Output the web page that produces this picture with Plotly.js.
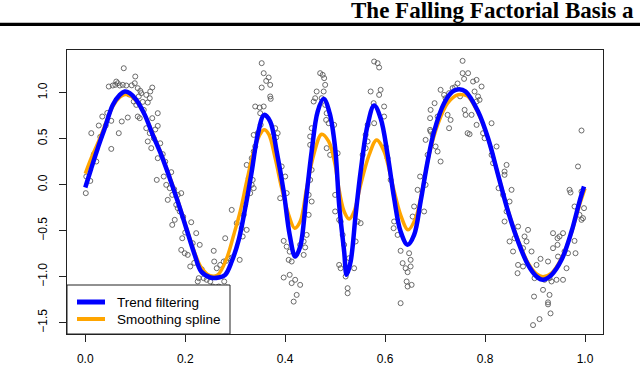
<!DOCTYPE html>
<html>
<head>
<meta charset="utf-8">
<script src="https://cdn.plot.ly/plotly-3.0.1.min.js"></script>
<style>html,body{margin:0;padding:0;background:#fff;}#chart{width:640px;height:366px;}</style>
</head>
<body>
<div id="chart"></div>
<script>
const ptX = [
0.001,0.002,0.010,0.012,0.022,0.027,0.034,0.041,0.052,0.052,0.067,0.073,0.085,0.047,0.055,0.062,0.065,0.060,0.069,0.075,
0.082,0.077,0.100,0.099,0.105,0.110,0.112,0.107,0.134,0.130,0.122,0.129,0.125,0.097,0.102,0.145,0.117,0.105,0.109,0.134,
0.145,0.122,0.129,0.125,0.132,0.137,0.155,0.145,0.143,0.157,0.172,0.162,0.169,0.165,0.174,0.185,0.192,0.182,0.185,0.189,
0.179,0.174,0.212,0.194,0.222,0.215,0.229,0.192,0.199,0.205,0.210,0.227,0.225,
0.017,0.030,0.044,0.088,0.093,0.115,0.140,0.150,0.160,0.178,0.196,0.200,0.218,0.233,
0.237,0.243,0.250,0.255,0.262,0.267,0.278,0.283,0.282,0.270,0.267,0.257,0.258,0.263,0.270,0.277,0.282,0.287,0.293,0.309,
0.280,0.293,0.303,0.313,0.323,0.315,0.317,0.320,0.323,0.330,0.337,0.333,0.327,0.335,0.323,0.333,0.337,0.340,0.337,0.345,
0.351,0.350,0.340,0.349,0.357,0.353,0.357,0.367,0.362,0.370,0.353,0.370,0.371,0.380,0.385,0.382,0.373,0.393,0.400,0.403,
0.390,0.397,0.403,0.409,0.407,0.413,0.397,0.409,0.420,0.413,0.430,0.423,0.417,0.430,0.437,0.440,0.443,0.437,0.447,0.453,
0.447,0.450,0.453,0.450,0.453,0.450,0.457,0.460,0.463,0.470,0.475,0.478,0.480,0.477,0.473,0.480,0.483,0.482,0.487,0.483,
0.490,0.500,0.500,
0.508,0.511,0.515,0.518,0.508,0.511,0.521,0.528,0.538,0.541,0.551,0.545,0.525,0.525,0.505,0.498,0.555,0.561,0.565,0.561,
0.565,0.571,0.577,0.588,0.591,0.598,0.598,0.578,0.578,0.585,0.588,0.601,0.605,0.611,0.618,0.617,0.625,0.631,0.648,0.651,
0.635,0.641,0.645,0.651,0.643,0.645,0.653,0.631,0.658,0.655,0.665,0.670,0.678,0.681,0.681,0.685,0.690,0.691,0.695,0.705,
0.711,0.701,0.691,0.690,0.699,0.705,0.711,0.718,0.721,0.728,0.725,0.731,0.728,0.755,0.755,0.758,0.759,0.761,0.765,
0.740,0.745,0.750,0.735,
0.766,0.776,0.783,0.793,0.779,0.786,0.789,0.783,0.773,0.783,0.769,0.813,0.796,0.799,0.823,0.813,0.816,0.843,0.839,0.839,
0.827,0.836,0.853,0.849,0.843,0.839,0.866,0.886,0.849,0.859,0.879,0.883,0.876,0.856,0.893,0.866,0.865,0.876,0.903,0.911,
0.926,0.899,0.919,0.929,0.933,0.943,0.956,0.898,0.916,0.929,0.926,0.926,0.931,0.909,0.896,0.936,0.945,0.949,0.956,0.936,
0.945,0.946,0.959,0.966,0.981,0.963,0.979,0.969,0.971,0.979,0.989,0.993,0.996,0.998,0.993,0.986,0.993
];
const ptY = [
-0.092,0.089,0.041,0.560,0.252,0.643,0.741,0.643,0.694,0.389,0.560,0.687,0.730,1.067,1.078,1.121,1.103,1.085,1.078,1.085,
1.078,1.266,1.176,1.103,1.049,1.020,0.995,0.959,1.056,1.013,0.976,0.940,0.893,0.904,0.867,0.777,0.813,0.741,0.723,0.723,
0.639,0.614,0.560,0.470,0.397,0.505,0.332,0.288,0.052,0.089,0.136,-0.002,-0.038,-0.165,-0.111,-0.111,-0.092,-0.219,-0.255,-0.291,
-0.382,-0.437,-0.408,-0.582,-0.527,-0.636,-0.654,-0.709,-0.745,-0.763,-0.889,-1.016,-1.052,
0.330,0.520,0.780,0.980,1.080,0.900,0.600,0.450,0.250,-0.050,-0.350,-0.520,-0.850,-0.920,
-1.016,-1.034,-1.052,-1.107,-1.118,-1.107,-1.052,-1.118,-1.198,-1.234,-1.252,-0.719,-0.835,-0.908,-0.872,-0.835,-0.828,-0.799,-0.792,-0.817,
-0.582,-0.274,-0.418,-0.473,-0.491,-0.563,-0.328,-0.219,-0.111,-0.092,-0.038,-0.002,0.071,0.052,0.215,0.288,0.361,0.415,0.541,0.560,
0.650,0.777,0.850,0.839,0.850,1.321,1.212,1.165,1.128,1.085,1.056,0.959,0.933,0.614,0.560,0.513,0.524,0.198,0.089,-0.092,
-0.147,-0.611,-0.673,-0.728,-0.817,-0.835,-1.009,-0.980,-1.034,-1.070,-1.089,-1.198,-1.271,-0.654,-0.617,-0.682,-0.546,-0.763,-0.328,-0.183,
-0.111,0.052,0.161,0.433,0.614,0.524,0.904,0.940,1.013,1.212,1.194,1.158,1.085,1.013,0.940,0.867,0.777,0.704,0.668,0.397,
0.324,-0.111,-0.291,
-0.382,-0.400,-0.546,-0.654,-0.872,-0.908,-0.998,-0.799,-0.908,-0.617,-0.418,-0.400,-1.125,-1.180,0.342,0.650,0.324,0.397,0.470,0.541,
0.650,1.013,0.886,0.976,1.031,0.850,0.741,0.668,1.339,1.321,1.274,0.415,0.288,0.052,-0.400,-0.473,-0.546,-0.719,-0.745,-0.817,
-0.853,-0.908,-0.951,-0.889,-1.052,-1.107,-1.089,-1.288,-0.237,-0.346,-0.056,0.089,-0.291,-0.002,0.487,0.324,0.596,0.578,0.541,0.361,
0.252,0.415,0.813,0.723,0.886,0.741,1.031,0.976,0.940,0.995,0.759,0.704,0.614,1.346,1.212,1.150,0.813,0.759,0.560,
1.060,1.100,0.960,1.050,
1.212,1.121,1.139,1.067,1.013,0.959,0.922,0.904,0.759,0.650,0.549,0.668,0.560,0.505,0.415,0.324,0.234,0.215,0.143,0.107,
-0.038,-0.111,-0.056,-0.183,-0.291,-0.400,-0.455,-0.491,-0.617,-0.582,-0.563,-0.617,-0.690,-0.726,-0.726,-0.872,-0.962,-0.889,-0.872,-0.806,
-0.835,-1.016,-1.034,-1.016,-1.052,-1.034,-1.034,-1.216,-1.143,-1.198,-1.279,-1.301,-1.399,-1.461,-1.526,-0.527,-0.582,-0.563,-0.527,-0.690,
-0.654,-0.781,-0.726,-0.745,-0.745,-0.908,-0.611,-0.056,-0.085,-0.237,-0.328,-0.382,-0.364,-0.255,-0.074,0.198,0.589
];

// Trend filtering fit
const tfX = [0.000,0.012,0.025,0.039,0.055,0.069,0.079,0.089,0.102,0.119,0.135,0.152,0.169,0.185,0.202,0.219,0.232,
0.250,0.267,0.280,0.293,0.307,0.320,0.333,0.345,0.358,0.370,0.383,0.397,0.409,0.420,0.430,0.442,0.453,0.465,0.477,0.489,0.500,
0.508,0.518,0.523,0.531,0.541,0.551,0.565,0.578,0.591,0.605,0.618,0.631,0.645,0.658,0.671,0.685,0.698,0.718,0.735,0.748,0.761,
0.786,0.806,0.826,0.846,0.866,0.886,0.903,0.916,0.933,0.953,0.973,0.989,0.998];
const tfY = [-0.031,0.179,0.397,0.614,0.867,0.976,1.013,0.995,0.922,0.759,0.541,0.324,0.071,-0.183,-0.473,-0.763,-0.944,
-1.009,-1.009,-0.980,-0.835,-0.600,-0.255,0.143,0.541,0.759,0.687,0.361,-0.074,-0.546,-0.781,-0.673,-0.147,0.361,0.795,0.933,0.777,0.397,
-0.219,-0.726,-0.980,-0.835,-0.328,0.143,0.650,0.860,0.723,0.324,-0.147,-0.509,-0.654,-0.546,-0.183,0.252,0.578,0.886,1.013,1.038,1.013,
0.795,0.505,0.107,-0.291,-0.617,-0.872,-0.998,-1.034,-0.980,-0.817,-0.509,-0.183,-0.020];

// Smoothing spline fit
const ssX = [0.000,0.012,0.025,0.039,0.055,0.069,0.079,0.089,0.102,0.119,0.135,0.152,0.169,0.185,0.202,0.219,0.232,
0.250,0.265,0.283,0.297,0.310,0.323,0.337,0.350,0.358,0.367,0.380,0.393,0.407,0.419,0.430,0.443,0.457,0.473,0.487,0.500,
0.505,0.518,0.528,0.538,0.551,0.568,0.583,0.598,0.615,0.631,0.646,0.661,0.675,0.688,0.705,0.725,0.745,0.758,0.766,
0.786,0.806,0.826,0.846,0.866,0.886,0.903,0.916,0.933,0.953,0.973,0.989,1.000];
const ssY = [0.120,0.290,0.450,0.640,0.850,0.950,0.980,0.970,0.910,0.760,0.555,0.335,0.085,-0.170,-0.460,-0.740,-0.900,
-0.990,-0.980,-0.799,-0.546,-0.291,0.035,0.361,0.549,0.596,0.549,0.288,-0.038,-0.328,-0.473,-0.400,-0.038,0.324,0.549,0.470,0.215,
0.035,-0.291,-0.372,-0.291,-0.002,0.324,0.487,0.361,-0.002,-0.328,-0.491,-0.364,-0.038,0.324,0.650,0.886,0.976,0.976,0.960,
0.780,0.500,0.110,-0.280,-0.600,-0.850,-0.970,-1.000,-0.960,-0.800,-0.520,-0.220,-0.040];

const seriesNames = ['Trend filtering', 'Smoothing spline'];
const seriesColors = ['#0000FF', '#FFA500'];
const seriesWidths = [4.5, 3.5];

const data = [
  {x: ptX, y: ptY, type: 'scatter', mode: 'markers', showlegend: false, hoverinfo: 'skip',
   marker: {symbol: 'circle-open', size: 5, color: '#5a5a5a', line: {width: 0.9, color: '#5a5a5a'}}},
  {x: ssX, y: ssY, type: 'scatter', mode: 'lines', name: seriesNames[1], showlegend: false,
   line: {color: seriesColors[1], width: seriesWidths[1], shape: 'spline', smoothing: 1}},
  {x: tfX, y: tfY, type: 'scatter', mode: 'lines', name: seriesNames[0], showlegend: false,
   line: {color: seriesColors[0], width: seriesWidths[0], shape: 'spline', smoothing: 1}}
];

// Legend box (R-style legend at bottom-left of the plot region)
const W = 536, H = 284, L = 67, T = 50;
const px = v => (v - L) / W;          // pixel -> paper x
const py = v => (T + H - v) / H;      // pixel -> paper y
const legRows = [302, 319];
const shapes = [
  {type: 'line', xref: 'paper', yref: 'paper', x0: px(0), x1: px(640), y0: py(24.3), y1: py(24.3),
   line: {color: '#000', width: 3.3}},
  {type: 'rect', xref: 'paper', yref: 'paper', x0: px(67), x1: px(230), y0: py(334), y1: py(285),
   fillcolor: '#fff', line: {color: '#222', width: 1}, layer: 'above'}
];
const annotations = [
  {text: '<b>The Falling Factorial Basis a</b>', xref: 'paper', yref: 'paper', x: px(636), y: py(10.5),
   xanchor: 'right', yanchor: 'middle', showarrow: false,
   font: {family: 'Liberation Serif, Times New Roman, serif', size: 23, color: '#000'}}
];
seriesNames.forEach((n, i) => {
  shapes.push({type: 'line', xref: 'paper', yref: 'paper', x0: px(77), x1: px(105), y0: py(legRows[i]), y1: py(legRows[i]),
               line: {color: seriesColors[i], width: seriesWidths[i] + 0.5}, layer: 'above'});
  annotations.push({text: n, xref: 'paper', yref: 'paper', x: px(115), y: py(legRows[i]), xanchor: 'left', yanchor: 'middle',
                    showarrow: false, font: {family: 'Liberation Sans, Arial, sans-serif', size: 13.5, color: '#000'}});
});

const axFont = {family: 'Liberation Sans, Arial, sans-serif', size: 12, color: '#000'};
const layout = {
  width: 640, height: 366,
  margin: {l: 67, r: 37, t: 50, b: 32, pad: 0},
  paper_bgcolor: '#fff', plot_bgcolor: '#fff',
  showlegend: false,
  xaxis: {range: [-0.0366, 1.036], tickvals: [0, 0.2, 0.4, 0.6, 0.8, 1.0], ticktext: ['0.0','0.2','0.4','0.6','0.8','1.0'],
          ticks: 'outside', ticklen: 7, tickcolor: '#222', tickwidth: 1, showgrid: false, zeroline: false,
          showline: true, linecolor: '#222', linewidth: 1, mirror: true, tickfont: axFont, ticklabelstandoff: 7},
  yaxis: {range: [-1.623, 1.464], tickvals: [-1.5, -1.0, -0.5, 0, 0.5, 1.0], ticktext: ['\u22121.5','\u22121.0','\u22120.5','0.0','0.5','1.0'],
          ticks: 'outside', ticklen: 7, tickcolor: '#222', tickwidth: 1, showgrid: false, zeroline: false, tickangle: -90,
          showline: true, linecolor: '#222', linewidth: 1, mirror: true, tickfont: axFont, ticklabelstandoff: 7},
  annotations: annotations,
  shapes: shapes
};
Plotly.newPlot('chart', data, layout, {displayModeBar: false, staticPlot: true});
</script>
</body>
</html>
